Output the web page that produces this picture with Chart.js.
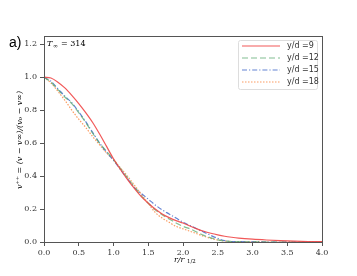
<!DOCTYPE html>
<html>
<head>
<meta charset="utf-8">
<script src="https://cdn.jsdelivr.net/npm/chart.js@4/dist/chart.umd.min.js"></script>
<style>
  html, body { margin: 0; padding: 0; background: #fff; }
  #wrap { width: 357px; height: 276px; }
</style>
</head>
<body>
<div id="wrap"><canvas id="plot" width="357" height="276"></canvas></div>
<script>
// r / r_1/2 positions shared by all series
const rValues = [0, 0.1, 0.2, 0.3, 0.4, 0.5, 0.6, 0.7, 0.8, 0.9, 1.0, 1.1, 1.2, 1.3, 1.4, 1.5, 1.6, 1.7, 1.8, 1.9,
    2.0, 2.1, 2.2, 2.3, 2.4, 2.5, 2.6, 2.7, 2.8, 3.0, 3.2, 3.4, 3.6, 3.8, 4.0];

const yd9 = [1.0, 0.995, 0.97, 0.935, 0.89, 0.84, 0.785, 0.725, 0.655, 0.58, 0.505, 0.44, 0.38, 0.325, 0.275, 0.235, 0.20, 0.17, 0.148, 0.13,
    0.115, 0.097, 0.08, 0.065, 0.053, 0.043, 0.035, 0.029, 0.024, 0.017, 0.012, 0.008, 0.005, 0.003, 0.002];
const yd12 = [1.0, 0.97, 0.925, 0.88, 0.84, 0.785, 0.725, 0.66, 0.60, 0.55, 0.50, 0.445, 0.39, 0.335, 0.28, 0.235, 0.195, 0.165, 0.14, 0.115,
    0.095, 0.08, 0.06, 0.04, 0.025, 0.013, 0.006, 0.003, 0.002, 0.001, 0, 0, 0, 0, 0];
const yd15 = [1.0, 0.975, 0.93, 0.885, 0.845, 0.79, 0.73, 0.665, 0.60, 0.545, 0.495, 0.44, 0.385, 0.33, 0.295, 0.26, 0.225, 0.195, 0.17, 0.145,
    0.12, 0.10, 0.08, 0.06, 0.04, 0.022, 0.008, 0.003, 0.002, 0.001, 0, 0, 0, 0, 0];
const yd18 = [1.0, 0.965, 0.915, 0.86, 0.80, 0.745, 0.695, 0.64, 0.59, 0.54, 0.50, 0.45, 0.40, 0.345, 0.29, 0.235, 0.18, 0.145, 0.12, 0.095,
    0.08, 0.065, 0.05, 0.035, 0.022, 0.012, 0.006, 0.003, 0.002, 0.001, 0, 0, 0, 0, 0];

const seriesLabels = ['y/d =9', 'y/d =12', 'y/d =15', 'y/d =18'];
const xTicks = [0, 0.5, 1.0, 1.5, 2.0, 2.5, 3.0, 3.5, 4.0];
const yTicks = [0, 0.2, 0.4, 0.6, 0.8, 1.0, 1.2];

const serif = '"DejaVu Serif", "Liberation Serif", serif';

function toPoints(vals) {
    return rValues.map((r, i) => ({ x: r, y: vals[i] }));
}

const styles = [
    { color: 'rgba(240,70,70,0.9)', dash: [] },
    { color: 'rgba(90,170,110,0.75)', dash: [6, 3] },
    { color: 'rgba(60,100,200,0.8)', dash: [5, 2, 1.2, 2] },
    { color: 'rgba(250,140,70,0.85)', dash: [1.5, 1.5] }
];

const datasets = [yd9, yd12, yd15, yd18].map((vals, i) => ({
    label: seriesLabels[i],
    data: toPoints(vals),
    borderColor: styles[i].color,
    borderDash: styles[i].dash,
    borderWidth: 1.2,
    pointRadius: 0,
    cubicInterpolationMode: 'monotone',
    fill: false
}));

const extras = {
    id: 'extras',
    afterDraw(chart) {
        const ctx = chart.ctx;
        const a = chart.chartArea;
        ctx.save();
        // frame
        ctx.strokeStyle = '#555';
        ctx.lineWidth = 1;
        ctx.strokeRect(a.left + 0.5, a.top + 0.5, a.right - a.left, a.bottom - a.top);

        // panel tag
        ctx.fillStyle = '#000';
        ctx.font = '14px "Liberation Sans", Arial, sans-serif';
        ctx.textBaseline = 'middle';
        ctx.fillText('a)', 9, 43);

        // T_inf annotation
        ctx.font = 'italic 8px ' + serif;
        ctx.fillText('T', 47, 44);
        ctx.font = '6px ' + serif;
        ctx.fillText('\u221E', 53, 46);
        ctx.font = '8px ' + serif;
        ctx.fillText('= 314', 61, 44);

        // x title: r/r_{1/2}
        const cx = (a.left + a.right) / 2;
        ctx.font = 'italic 8px ' + serif;
        ctx.fillText('r/r', cx - 9, 260);
        ctx.font = '5.5px ' + serif;
        ctx.fillText('1/2', cx + 4, 262);

        // y title
        ctx.font = 'italic 8px ' + serif;
        ctx.textAlign = 'center';
        ctx.save();
        ctx.translate(20, 140);
        ctx.rotate(-Math.PI / 2);
        ctx.fillText('v\u207A\u207A = (v \u2212 v\u221E)/(v\u2080 \u2212 v\u221E)', 0, 0);
        ctx.restore();

        // legend
        const lx = 238.5, ly = 40.5, lw = 79, lh = 49;
        ctx.fillStyle = 'rgba(255,255,255,0.85)';
        ctx.strokeStyle = '#ddd';
        ctx.lineWidth = 1;
        ctx.beginPath();
        ctx.roundRect(lx, ly, lw, lh, 2);
        ctx.fill();
        ctx.stroke();
        ctx.textAlign = 'left';
        ctx.font = '8px "DejaVu Sans", sans-serif';
        chart.data.datasets.forEach((ds, i) => {
            const y = 46 + i * 12;
            ctx.strokeStyle = ds.borderColor;
            ctx.lineWidth = 1.2;
            ctx.setLineDash(ds.borderDash);
            ctx.beginPath();
            ctx.moveTo(242, y);
            ctx.lineTo(280, y);
            ctx.stroke();
            ctx.setLineDash([]);
            ctx.fillStyle = '#333';
            ctx.fillText(ds.label, 287, y);
        });
        ctx.restore();
    }
};

new Chart(document.getElementById('plot'), {
    type: 'line',
    data: { datasets: datasets },
    options: {
        responsive: false,
        animation: false,
        layout: { padding: { top: 36, right: 35, left: 0, bottom: 0 } },
        plugins: { legend: { display: false }, tooltip: { enabled: false } },
        scales: {
            x: {
                type: 'linear',
                min: 0,
                max: 4,
                afterBuildTicks: s => { s.ticks = xTicks.map(v => ({ value: v })); },
                afterFit: s => { s.height = 34; },
                grid: { drawOnChartArea: false, drawTicks: true, tickLength: 4, color: '#555' },
                border: { color: '#555' },
                ticks: {
                    color: '#333',
                    padding: 2,
                    maxRotation: 0,
                    font: { family: serif, size: 8 },
                    callback: v => v.toFixed(1)
                }
            },
            y: {
                type: 'linear',
                min: 0,
                max: 1.25,
                afterBuildTicks: s => { s.ticks = yTicks.map(v => ({ value: v })); },
                afterFit: s => { s.width = 44; },
                grid: { drawOnChartArea: false, drawTicks: true, tickLength: 4, color: '#555' },
                border: { color: '#555' },
                ticks: {
                    color: '#333',
                    padding: 3,
                    font: { family: serif, size: 8 },
                    callback: v => v.toFixed(1)
                }
            }
        }
    },
    plugins: [extras]
});
</script>
</body>
</html>
